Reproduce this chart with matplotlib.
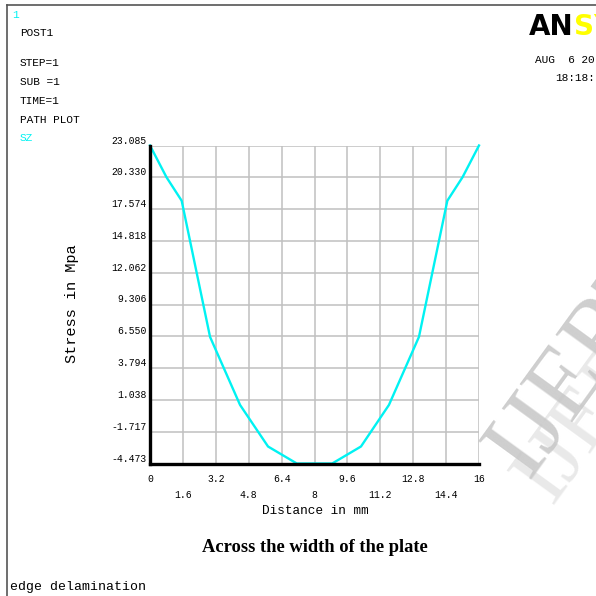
import matplotlib
matplotlib.use("Agg")
from matplotlib import pyplot as plt

# path plot of SZ across the plate width
DIST = [0, 0.8, 1.54, 2.92, 4.38, 5.74, 7.14, 8.86, 10.26, 11.62, 13.08, 14.46, 15.2, 16]
SZ = [23.085, 20.34, 18.3, 6.5, 0.6, -3.0, -4.473, -4.473, -3.0, 0.6, 6.5, 18.3, 20.34, 23.085]

X_TICKS = [0, 1.6, 3.2, 4.8, 6.4, 8, 9.6, 11.2, 12.8, 14.4, 16]
X_LABELS = ['0', '1.6', '3.2', '4.8', '6.4', '8', '9.6', '11.2', '12.8', '14.4', '16']
Y_TICKS = [-4.473, -1.717, 1.038, 3.794, 6.550, 9.306, 12.062, 14.818, 17.574, 20.330, 23.085]
Y_LABELS = ['-4.473', '-1.717', '1.038', '3.794', '6.550', '9.306', '12.062', '14.818',
            '17.574', '20.330', '23.085']

INFO_LINES = [('POST1', 33), ('STEP=1', 63), ('SUB =1', 82), ('TIME=1', 101), ('PATH PLOT', 120)]

W = H = 596
MONO = 'Liberation Mono'
CYAN = '#00f2f2'


def px(x, y):
    # pixel coords (from top left) to figure fraction
    return x / W, 1 - y / H


fig = plt.figure(figsize=(5.96, 5.96), dpi=100)

# frame lines of the ansys window
fig.add_artist(plt.Line2D([7 / W, 1], [1 - 4.5 / H] * 2, color='#555555', lw=1.2))
fig.add_artist(plt.Line2D([7 / W] * 2, [0, 1 - 4.5 / H], color='#555555', lw=1.2))

left, top, right, bottom = 150, 145.5, 479, 463.5
ax = fig.add_axes([left / W, 1 - bottom / H, (right - left) / W, (bottom - top) / H])
ax.set_xlim(0, 16)
ax.set_ylim(Y_TICKS[0], Y_TICKS[-1])
for xv in X_TICKS[1:]:
    ax.axvline(xv, color='#c0c0c0', lw=1.1, zorder=1)
for yv in Y_TICKS[1:]:
    ax.axhline(yv, color='#c0c0c0', lw=1.1, zorder=1)
ax.plot(DIST, SZ, color=CYAN, lw=1.7, zorder=3, clip_on=False)
ax.set_xticks([])
ax.set_yticks([])
for s in ['top', 'right']:
    ax.spines[s].set_visible(False)
for s in ['left', 'bottom']:
    ax.spines[s].set_linewidth(2.4)
    ax.spines[s].set_color('black')
    ax.spines[s].set_zorder(4)

# tick labels, ansys style
for yv, lab in zip(Y_TICKS, Y_LABELS):
    ax.text(-0.15, yv, lab, ha='right', va='bottom', fontsize=7, family=MONO)
for i, (xv, lab) in enumerate(zip(X_TICKS, X_LABELS)):
    dy = 20 if i % 2 == 0 else 36
    ax.annotate(lab, (xv, Y_TICKS[0]), xytext=(0, -dy * 0.72), textcoords='offset points',
                ha='center', va='bottom', fontsize=7, family=MONO)

fig.text(*px(315, 511), 'Distance in mm', ha='center', va='center', fontsize=9.2, family=MONO)
fig.text(*px(72, 304), 'Stress in Mpa', ha='center', va='center', rotation=90,
         fontsize=11, family=MONO)

# header text
fig.text(*px(12, 15), '1', color=CYAN, fontsize=8, family=MONO, va='center')
for txt, yy in INFO_LINES:
    fig.text(*px(20, yy), txt, fontsize=8, family=MONO, va='center')
fig.text(*px(20, 138), 'SZ', color=CYAN, fontsize=8, family=MONO, va='center')

# logo, clipped by the right edge like the original window
logo = fig.text(*px(529, 35), 'AN', color='black', fontsize=20, weight='heavy',
                family='DejaVu Sans', va='baseline')
ax.annotate('SY', xy=(1, 0), xycoords=logo, color='#ffff00', fontsize=20, weight='heavy',
            family='DejaVu Sans', va='bottom', annotation_clip=False)
fig.text(*px(535, 60), 'AUG  6 20', fontsize=8, family=MONO, va='center')
fig.text(*px(555, 78), '18:18:', fontsize=8, family=MONO, va='center')

# watermark (cut by the right edge)
fig.text(*px(600, 400), 'IJERT', color='#e2e2e2', alpha=0.75, fontsize=64,
         family='Liberation Serif', rotation=54, ha='center', va='center')
fig.text(*px(583, 362), 'IJERT', color='#c6c6c6', alpha=0.85, fontsize=72,
         family='Liberation Serif', rotation=54, ha='center', va='center')

fig.text(*px(315, 548), 'Across the width of the plate', ha='center', va='center',
         fontsize=13.3, weight='bold', family='Liberation Serif')
fig.text(*px(10, 587), 'edge delamination', fontsize=9.5, family=MONO, va='center')

fig.savefig('out.png', dpi=100)
